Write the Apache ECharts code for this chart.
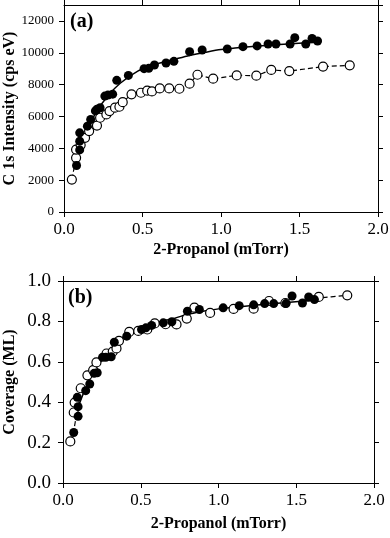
<!DOCTYPE html>
<html>
<head>
<meta charset="utf-8">
<script src="https://cdn.jsdelivr.net/npm/echarts@6/dist/echarts.min.js"></script>
<style>
  html, body { margin: 0; padding: 0; background: #fff; }
  #main { width: 390px; height: 538px; }
</style>
</head>
<body>
<div id="main"></div>
<script>
// panel (a): C 1s intensity
var xFillA = [0.08, 0.10, 0.10, 0.10, 0.149, 0.17, 0.20, 0.21, 0.23, 0.26, 0.28, 0.31, 0.336, 0.41, 0.51, 0.54, 0.576, 0.65, 0.70, 0.80, 0.88, 1.04, 1.14, 1.23, 1.30, 1.35, 1.44, 1.47, 1.54, 1.58, 1.615];
var yFillA = [2920, 3900, 4450, 4970, 5390, 5810, 6350, 6450, 6550, 7280, 7340, 7400, 8270, 8580, 9000, 9020, 9230, 9360, 9460, 10070, 10175, 10240, 10385, 10430, 10550, 10550, 10550, 10950, 10550, 10900, 10740];
var xOpenA = [0.05, 0.077, 0.077, 0.106, 0.134, 0.16, 0.21, 0.23, 0.27, 0.29, 0.325, 0.353, 0.374, 0.43, 0.49, 0.53, 0.56, 0.61, 0.67, 0.735, 0.80, 0.85, 0.95, 1.10, 1.225, 1.32, 1.435, 1.65, 1.82];
var yOpenA = [2035, 3400, 3920, 4200, 4660, 5080, 5430, 5920, 6130, 6340, 6550, 6610, 6900, 7390, 7490, 7620, 7570, 7760, 7760, 7740, 8060, 8620, 8370, 8580, 8560, 8920, 8850, 9130, 9210];
var fitXA = [0.075, 0.1, 0.15, 0.2, 0.28, 0.36, 0.47, 0.57, 0.7, 0.8, 0.9, 1.0, 1.2, 1.4, 1.62];
var fitYA = [2900, 4100, 5150, 6200, 7300, 8100, 8850, 9250, 9580, 9830, 10030, 10200, 10400, 10540, 10660];

// panel (b): coverage
var xFillB = [0.069, 0.097, 0.097, 0.092, 0.146, 0.172, 0.20, 0.22, 0.254, 0.275, 0.31, 0.33, 0.41, 0.505, 0.533, 0.57, 0.645, 0.70, 0.80, 0.877, 1.03, 1.133, 1.226, 1.297, 1.355, 1.434, 1.473, 1.54, 1.58, 1.617];
var yFillB = [0.25, 0.33, 0.378, 0.424, 0.457, 0.49, 0.543, 0.546, 0.622, 0.622, 0.625, 0.697, 0.727, 0.76, 0.768, 0.78, 0.793, 0.798, 0.85, 0.859, 0.867, 0.878, 0.882, 0.888, 0.888, 0.888, 0.926, 0.891, 0.921, 0.908];
var xOpenB = [0.047, 0.069, 0.075, 0.114, 0.157, 0.194, 0.215, 0.28, 0.32, 0.344, 0.36, 0.426, 0.484, 0.542, 0.59, 0.66, 0.73, 0.796, 0.845, 0.946, 1.097, 1.226, 1.325, 1.43, 1.645, 1.828];
var yOpenB = [0.206, 0.349, 0.398, 0.469, 0.533, 0.559, 0.597, 0.641, 0.65, 0.666, 0.704, 0.748, 0.753, 0.76, 0.79, 0.786, 0.785, 0.814, 0.868, 0.842, 0.862, 0.863, 0.901, 0.891, 0.921, 0.929];
var fitXB = [0.09, 0.14, 0.204, 0.269, 0.333, 0.419, 0.505, 0.591, 0.72, 0.8, 0.9, 1.0, 1.2, 1.4, 1.62];
var fitYB = [0.36, 0.46, 0.559, 0.625, 0.683, 0.74, 0.773, 0.792, 0.816, 0.835, 0.85, 0.862, 0.878, 0.891, 0.905];
// dashed pieces of the open-circle fit that stick out past the solid one
var dashStartXB = [0.047, 0.069, 0.09];
var dashStartYB = [0.206, 0.26, 0.36];
var dashEndXB = [1.62, 1.645, 1.828];
var dashEndYB = [0.908, 0.915, 0.929];

var xTicks = ['0.0', '0.5', '1.0', '1.5', '2.0'];
var yTicksB = ['0.0', '0.2', '0.4', '0.6', '0.8', '1.0'];

var serif = '"Liberation Serif", "Times New Roman", serif';

function pairs(xs, ys) {
    return xs.map(function (x, i) { return [x, ys[i]]; });
}

var myChart = echarts.init(document.getElementById('main'));

function mainX(grid, gap) {
    return {
        gridIndex: grid, type: 'value', min: 0, max: 2, interval: 0.5,
        name: '2-Propanol (mTorr)', nameLocation: 'middle', nameGap: gap, nameMoveOverlap: false,
        nameTextStyle: {fontFamily: serif, fontWeight: 'bold', fontSize: 16, color: '#000'},
        axisLine: {onZero: false, lineStyle: {color: '#000', width: 1}},
        axisTick: {inside: false, length: 5, lineStyle: {color: '#000'}},
        axisLabel: {fontFamily: serif, fontSize: 17, color: '#000', margin: 9,
            formatter: function (v) { return xTicks[Math.round(v / 0.5)]; }},
        splitLine: {show: false}
    };
}
function sideX(grid) {
    return {
        gridIndex: grid, type: 'value', position: 'top', min: 0, max: 2, interval: 0.5,
        axisLine: {onZero: false, lineStyle: {color: '#000', width: 1}},
        axisTick: {inside: false, length: 5, lineStyle: {color: '#000'}},
        axisLabel: {show: false}, splitLine: {show: false}
    };
}
function sideY(grid, max, step) {
    return {
        gridIndex: grid, type: 'value', position: 'right', min: 0, max: max, interval: step,
        axisLine: {show: true, onZero: false, lineStyle: {color: '#000', width: 1}},
        axisTick: {show: true, inside: false, length: 5, lineStyle: {color: '#000'}},
        axisLabel: {show: false}, splitLine: {show: false}
    };
}
function dashed(xs, ys) {
    return {
        type: 'line', xAxisIndex: 1, yAxisIndex: 1,
        data: pairs(xs, ys), smooth: 0.3, showSymbol: false,
        lineStyle: {color: '#000', width: 1.2, type: [5, 3]}, z: 2
    };
}

option = {
    backgroundColor: '#fff',
    animation: false,
    grid: [
        {left: 64, top: 5, width: 314, height: 207, outerBoundsMode: 'none'},
        {left: 63, top: 281, width: 311, height: 202, outerBoundsMode: 'none'}
    ],
    xAxis: [mainX(0, 30), mainX(1, 33), sideX(0), sideX(1)],
    yAxis: [
        {
            gridIndex: 0, type: 'value', min: 0, max: 13000, interval: 2000,
            name: 'C 1s Intensity (cps eV)', nameLocation: 'middle', nameGap: 46, nameMoveOverlap: false,
            nameTextStyle: {fontFamily: serif, fontWeight: 'bold', fontSize: 16, color: '#000'},
            axisLine: {show: true, onZero: false, lineStyle: {color: '#000', width: 1}},
            axisTick: {show: true, inside: false, length: 5, lineStyle: {color: '#000'}},
            axisLabel: {fontFamily: serif, fontSize: 13, color: '#000', margin: 10,
                showMaxLabel: false,
                formatter: function (v) { return String(v); }},
            splitLine: {show: false}
        },
        {
            gridIndex: 1, type: 'value', min: 0, max: 1, interval: 0.2,
            name: 'Coverage (ML)', nameLocation: 'middle', nameGap: 45, nameMoveOverlap: false,
            nameTextStyle: {fontFamily: serif, fontWeight: 'bold', fontSize: 16, color: '#000'},
            axisLine: {show: true, onZero: false, lineStyle: {color: '#000', width: 1}},
            axisTick: {show: true, inside: false, length: 5, lineStyle: {color: '#000'}},
            axisLabel: {fontFamily: serif, fontSize: 19, color: '#000', margin: 12,
                formatter: function (v) { return yTicksB[Math.round(v / 0.2)]; }},
            splitLine: {show: false}
        },
        sideY(0, 13000, 2000),
        sideY(1, 1, 0.2)
    ],
    graphic: [
        {type: 'text', left: 70, top: 12, style: {text: '(a)', font: 'bold 20px ' + serif, fill: '#000'}},
        {type: 'text', left: 68, top: 288, style: {text: '(b)', font: 'bold 20px ' + serif, fill: '#000'}}
    ],
    series: [
        {
            name: 'fit a', type: 'line', xAxisIndex: 0, yAxisIndex: 0,
            data: pairs(fitXA, fitYA), smooth: 0.3, showSymbol: false,
            lineStyle: {color: '#000', width: 1.5}, z: 2
        },
        {
            name: 'open a', type: 'line', xAxisIndex: 0, yAxisIndex: 0,
            data: pairs(xOpenA, yOpenA), symbol: 'circle', symbolSize: 9,
            itemStyle: {color: '#fff', borderColor: '#000', borderWidth: 1.2},
            lineStyle: {color: '#000', width: 1.2, type: [5, 3]}, z: 3
        },
        {
            name: 'filled a', type: 'scatter', xAxisIndex: 0, yAxisIndex: 0,
            data: pairs(xFillA, yFillA), symbol: 'circle', symbolSize: 9,
            itemStyle: {color: '#000', opacity: 1}, z: 4
        },
        dashed(dashStartXB, dashStartYB),
        dashed(dashEndXB, dashEndYB),
        {
            name: 'fit b', type: 'line', xAxisIndex: 1, yAxisIndex: 1,
            data: pairs(fitXB, fitYB), smooth: 0.3, showSymbol: false,
            lineStyle: {color: '#000', width: 1.5}, z: 2
        },
        {
            name: 'open b', type: 'scatter', xAxisIndex: 1, yAxisIndex: 1,
            data: pairs(xOpenB, yOpenB), symbol: 'circle', symbolSize: 9,
            itemStyle: {color: '#fff', borderColor: '#000', borderWidth: 1.2, opacity: 1}, z: 3
        },
        {
            name: 'filled b', type: 'scatter', xAxisIndex: 1, yAxisIndex: 1,
            data: pairs(xFillB, yFillB), symbol: 'circle', symbolSize: 9,
            itemStyle: {color: '#000', opacity: 1}, z: 4
        }
    ]
};
myChart.setOption(option);
</script>
</body>
</html>
